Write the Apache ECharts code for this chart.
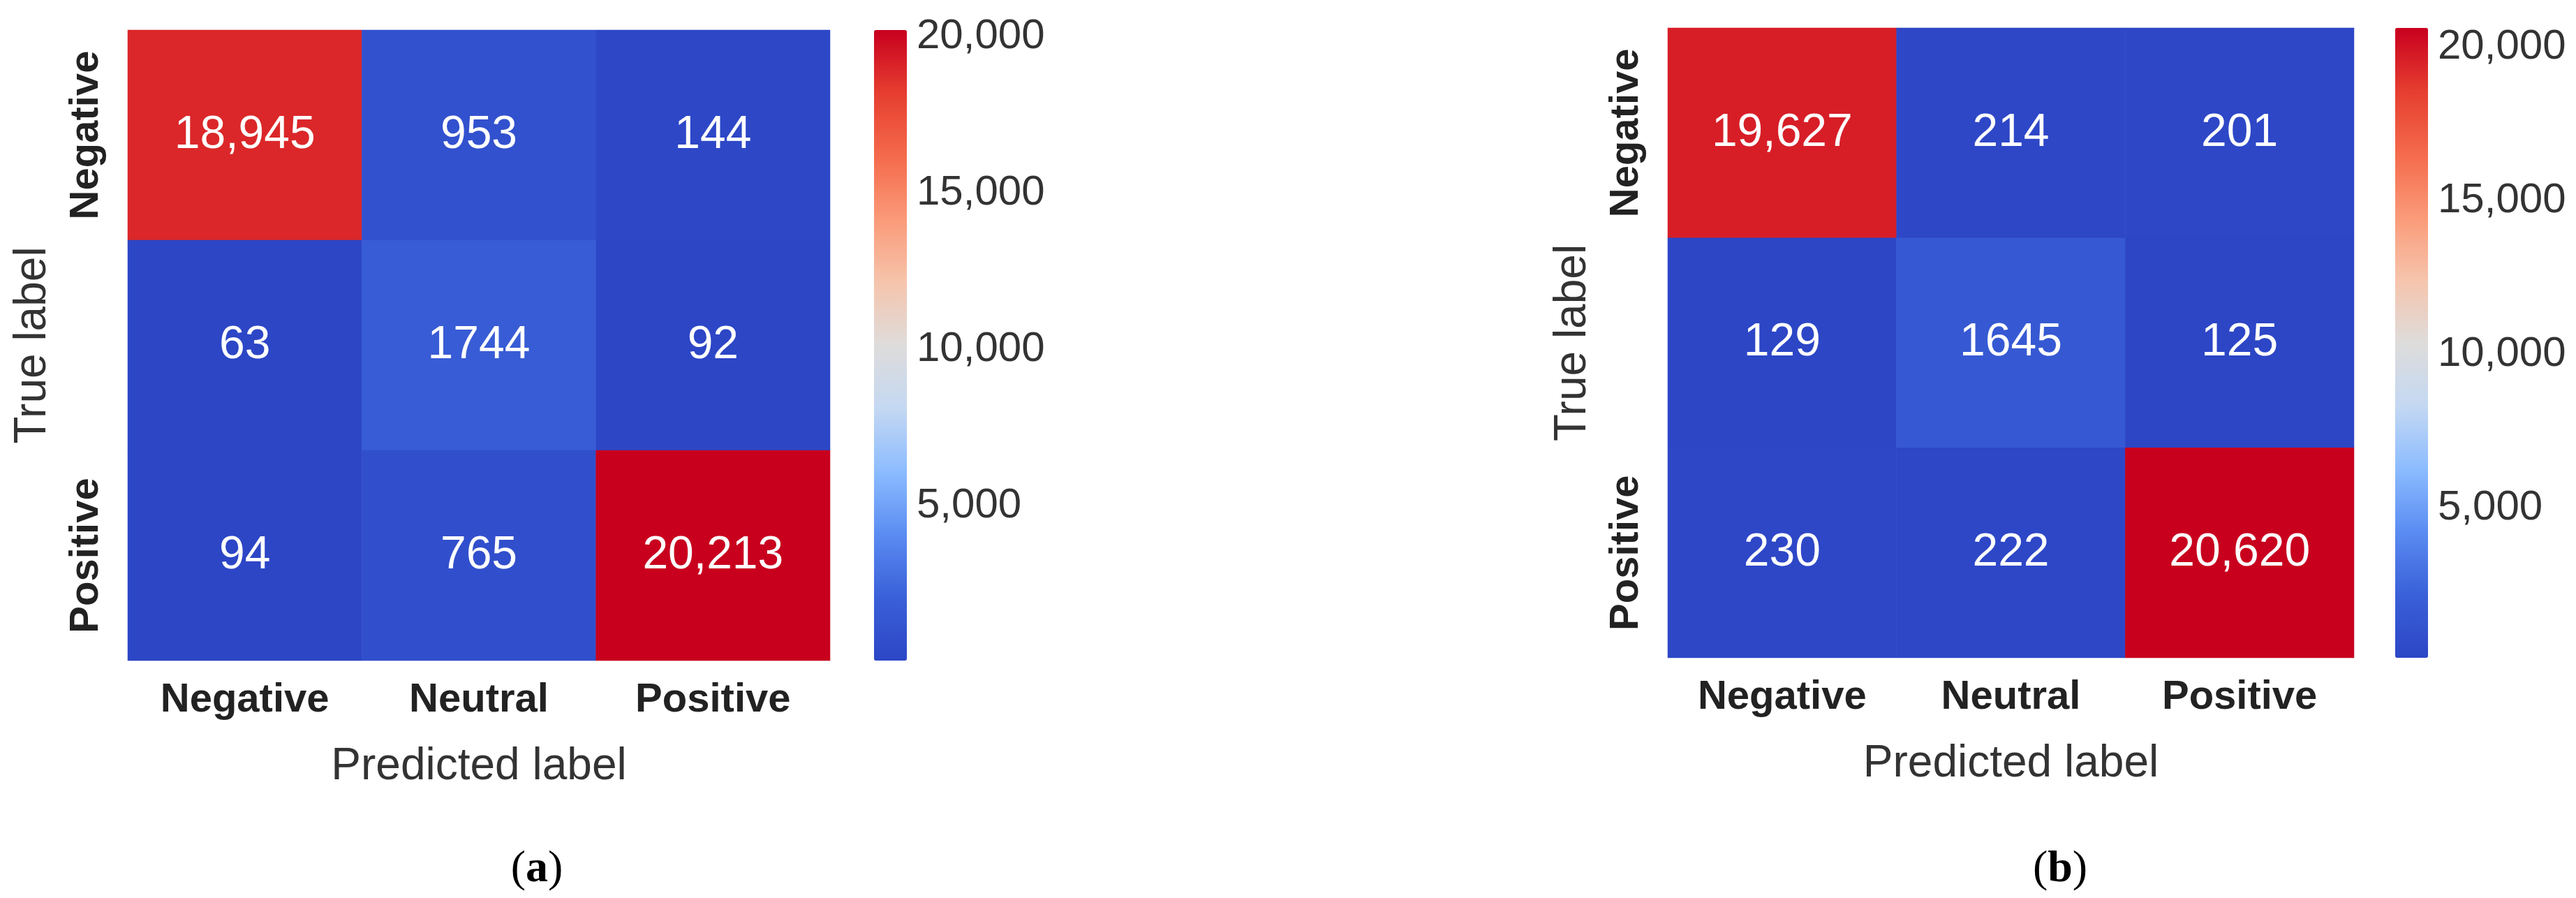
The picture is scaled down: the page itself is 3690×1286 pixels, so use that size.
<!DOCTYPE html>
<html>
<head>
<meta charset="utf-8">
<script src="https://cdn.jsdelivr.net/npm/echarts@6/dist/echarts.min.js"></script>
<style>html,body{margin:0;background:#fff}#main{width:3690px;height:1286px}</style>
</head>
<body>
<div id="main"></div>
<script>
var labels = ['Negative', 'Neutral', 'Positive'];
// rows = true label, cols = predicted label
var matrixA = [[18945, 953, 144], [63, 1744, 92], [94, 765, 20213]];
var matrixB = [[19627, 214, 201], [129, 1645, 125], [230, 222, 20620]];
var barTicks = [5000, 10000, 15000, 20000];
var coolwarm = ['#2c46c6', '#3a60d8', '#5a8cf2', '#8cbcff', '#c4d8f2', '#dedcdb', '#f6c4ac', '#fa9a78', '#f46a4c', '#e63e30', '#c8001e'];

var chart = echarts.init(document.getElementById('main'));
var sans = 'Liberation Sans';

function cells(m) {
    var out = [];
    for (var r = 0; r < 3; r++) for (var c = 0; c < 3; c++) out.push([c, r, m[r][c]]);
    return out;
}
function fmt(v) { return v >= 10000 ? v.toLocaleString('en-US') : String(v); }
function range(m) { var a = [].concat.apply([], m); return [Math.min.apply(null, a), Math.max.apply(null, a)]; }

var panels = [
    {m: matrixA, left: 183, width: 1006, top: 43, height: 903, bar: 1252, trueX: 47, predX: 686, tag: 'a', tagX: 769},
    {m: matrixB, left: 2389, width: 983, top: 40, height: 902, bar: 3431, trueX: 2253, predX: 2880, tag: 'b', tagX: 2951}
];

var grid = [], xAxis = [], yAxis = [], series = [], visualMap = [], graphic = [];
panels.forEach(function (p, i) {
    var rg = range(p.m);
    grid.push({left: p.left, top: p.top, width: p.width, height: p.height});
    grid.push({left: p.bar, top: p.top, width: 47, height: p.height});
    xAxis.push({type: 'category', gridIndex: 2 * i, data: labels, axisLine: {show: false}, axisTick: {show: false},
        axisLabel: {fontFamily: sans, fontWeight: 'bold', fontSize: 58, color: '#222', margin: 28},
        name: 'Predicted label', nameLocation: 'middle', nameGap: 120,
        nameTextStyle: {fontFamily: sans, fontSize: 64, color: '#333'}});
    yAxis.push({type: 'category', gridIndex: 2 * i, data: labels, inverse: true, axisLine: {show: false}, axisTick: {show: false},
        axisLabel: {rotate: 90, fontFamily: sans, fontWeight: 'bold', fontSize: 58, color: '#222', margin: 30}});
    xAxis.push({type: 'value', gridIndex: 2 * i + 1, show: false, min: 0, max: 1});
    yAxis.push({type: 'value', gridIndex: 2 * i + 1, position: 'right', min: rg[0], max: rg[1], splitLine: {show: false},
        axisLine: {show: false}, axisTick: {show: true, length: 10, lineStyle: {color: '#333', width: 2}, customValues: barTicks},
        axisLabel: {fontFamily: sans, fontSize: 60, color: '#333', margin: 14, customValues: barTicks,
            formatter: function (v) { return v.toLocaleString('en-US'); }}});
    series.push({type: 'heatmap', xAxisIndex: 2 * i, yAxisIndex: 2 * i, data: cells(p.m),
        label: {show: true, color: '#fff', fontFamily: sans, fontSize: 66, formatter: function (d) { return fmt(d.value[2]); }}});
    series.push({type: 'line', xAxisIndex: 2 * i + 1, yAxisIndex: 2 * i + 1, data: [], silent: true});
    visualMap.push({type: 'continuous', seriesIndex: 2 * i, min: rg[0], max: rg[1], inRange: {color: coolwarm},
        left: p.bar, top: p.top, itemWidth: 47, itemHeight: p.height, text: ['', ''], calculable: false,
        showLabel: false, hoverLink: false, padding: 0, textStyle: {fontSize: 0}});
    graphic.push({type: 'text', x: p.trueX, y: p.top + p.height / 2, rotation: Math.PI / 2,
        style: {text: 'True label', font: '64px "Liberation Sans"', fill: '#333', align: 'center', verticalAlign: 'middle'}});
    graphic.push({type: 'text', x: p.tagX, y: 1245,
        style: {text: '(' + '{b|' + p.tag + '})', font: '64px "Liberation Serif"', fill: '#000', align: 'center', verticalAlign: 'middle',
            rich: {b: {fontFamily: 'Liberation Serif', fontWeight: 'bold', fontSize: 64, fill: '#000'}}}});
});

chart.setOption({
    animation: false,
    grid: grid, xAxis: xAxis, yAxis: yAxis, series: series, visualMap: visualMap, graphic: graphic
});
</script>
</body>
</html>
